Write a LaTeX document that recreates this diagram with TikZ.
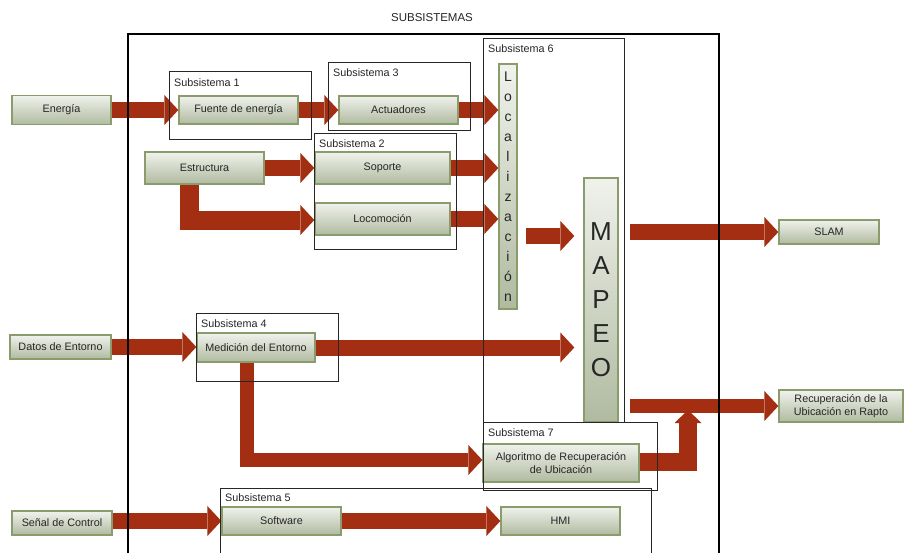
\documentclass[tikz,border=0pt]{standalone}
\usepackage{fontspec}
\setmainfont{Liberation Sans}
\usetikzlibrary{arrows.meta}
\definecolor{arr}{RGB}{163,46,18}
\definecolor{bord}{RGB}{139,156,108}
\definecolor{ftop}{RGB}{240,242,236}
\definecolor{fbot}{RGB}{176,186,160}
\begin{document}
\begin{tikzpicture}[x=1pt,y=-1pt,
  blk/.style={draw=bord, line width=1.3pt, top color=ftop, bottom color=fbot, inner sep=1pt,
    font=\fontsize{10.8}{12.5}\selectfont, text=black!85, align=center, anchor=center},
  flow/.style={draw=arr, line width=16pt, -{Triangle[length=14pt,width=30pt,line width=0pt]}},
  frame/.style={draw=black!85, line width=1pt},
  flabel/.style={anchor=west, inner sep=0pt, font=\fontsize{10.8}{12}\selectfont, text=black!85}]
\useasboundingbox (0,0) rectangle (904,552);
\clip (0,0) rectangle (904,552);
\fill[white] (0,0) rectangle (904,552);

% blocks
\node[blk, minimum width=99pt, minimum height=29pt] (energia) at (61.5,110) {Energía};
\node[blk, minimum width=119pt, minimum height=28pt] (fuente) at (238.5,110) {Fuente de energía};
\node[blk, minimum width=119pt, minimum height=28pt] (actuadores) at (398.5,110) {Actuadores};
\node[blk, minimum width=119pt, minimum height=32pt] (estructura) at (204.5,168) {Estructura};
\node[blk, minimum width=135pt, minimum height=32pt] (soporte) at (382.5,168) {Soporte};
\node[blk, minimum width=135pt, minimum height=32pt] (locomocion) at (382.5,219) {Locomoción};
\node[blk, minimum width=18pt, minimum height=245pt, inner sep=0pt, font=\fontsize{14}{20}\selectfont] (loc) at (508,186.5) {L\\o\\c\\a\\l\\i\\z\\a\\c\\i\\ó\\n};
\node[blk, minimum width=34pt, minimum height=244pt, inner sep=0pt, font=\fontsize{26}{34}\selectfont] (mapeo) at (601,300) {M\\A\\P\\E\\O};
\node[blk, minimum width=100pt, minimum height=24pt] (slam) at (829,232) {SLAM};
\node[blk, minimum width=101pt, minimum height=24pt] (datos) at (60.5,347) {Datos de Entorno};
\node[blk, minimum width=118pt, minimum height=29pt] (medicion) at (256,347.5) {Medición del Entorno};
\node[blk, minimum width=100pt, minimum height=24pt] (senal) at (62,523) {Señal de Control};
\node[blk, minimum width=119pt, minimum height=28pt] (software) at (281.5,521) {Software};
\node[blk, minimum width=119pt, minimum height=28pt] (hmi) at (560.5,521) {HMI};
\node[blk, minimum width=156pt, minimum height=38pt] (algoritmo) at (561,463) {Algoritmo de Recuperación\\de Ubicación};
\node[blk, minimum width=124pt, minimum height=32pt] (recup) at (841,406) {Recuperación de la\\Ubicación en Rapto};

% helper coordinates
\coordinate (e1) at (189,220);
\coordinate (m1) at (247,460);
\coordinate (r1) at (688,462);
\coordinate (r2) at (688,410);
\coordinate (y236) at (0,236);
\coordinate (lo) at ([xshift=8pt]loc.east);
\coordinate (mi) at ([xshift=-9pt]mapeo.west);
\coordinate (mo) at ([xshift=11pt]mapeo.east);

% flows
\draw[flow] (energia.east) -- (fuente.west);
\draw[flow] (fuente.east) -- (actuadores.west);
\draw[flow] (actuadores.east) -- (loc.west |- actuadores.east);
\draw[flow] (estructura.east) -- (soporte.west);
\draw[flow, line width=19pt] (estructura.south -| e1) -- (e1) -- (locomocion.west |- e1);
\draw[flow] (soporte.east) -- (loc.west |- soporte.east);
\draw[flow] (locomocion.east) -- (loc.west |- locomocion.east);
\draw[flow] (lo |- y236) -- (mi |- y236);
\draw[flow] (mo |- slam.west) -- (slam.west);
\draw[flow] (datos.east) -- (medicion.west |- datos.east);
\draw[flow] (medicion.east) -- (mi |- medicion.east);
\draw[flow, line width=14pt] (medicion.south -| m1) -- (m1) -- (algoritmo.west |- m1);
\draw[flow, line width=14pt] (mo |- recup.west) -- (recup.west);
\draw[flow, line width=18pt, -{Triangle[length=13pt,width=27pt,line width=0pt]}] (algoritmo.east |- r1) -- (r1) -- (r2);
\draw[flow] (senal.east |- software.west) -- (software.west);
\draw[flow] (software.east) -- (hmi.west);

% frames
\draw[black, line width=2.2pt] (128,34) rectangle (719,570);
\draw[frame] (169,71) rectangle (311,139);
\draw[frame] (328,62) rectangle (470,130);
\draw[frame] (314,133) rectangle (456,249);
\draw[frame] (483,38) rectangle (624,422);
\draw[frame] (196,313) rectangle (338,381);
\draw[frame] (483,422) rectangle (657,490);
\draw[frame] (220,488) rectangle (651,570);

\node[flabel] (l1) at (174,83) {Subsistema 1};
\node[flabel] (l3) at (333,73) {Subsistema 3};
\node[flabel] (l2) at (319,144) {Subsistema 2};
\node[flabel] (l6) at (488,49) {Subsistema 6};
\node[flabel] (l4) at (201,324) {Subsistema 4};
\node[flabel] (l7) at (488,433) {Subsistema 7};
\node[flabel] (l5) at (225,498) {Subsistema 5};
\node[font=\fontsize{11.5}{13}\selectfont, text=black!85] (title) at (432,18) {SUBSISTEMAS};
\end{tikzpicture}
\end{document}
